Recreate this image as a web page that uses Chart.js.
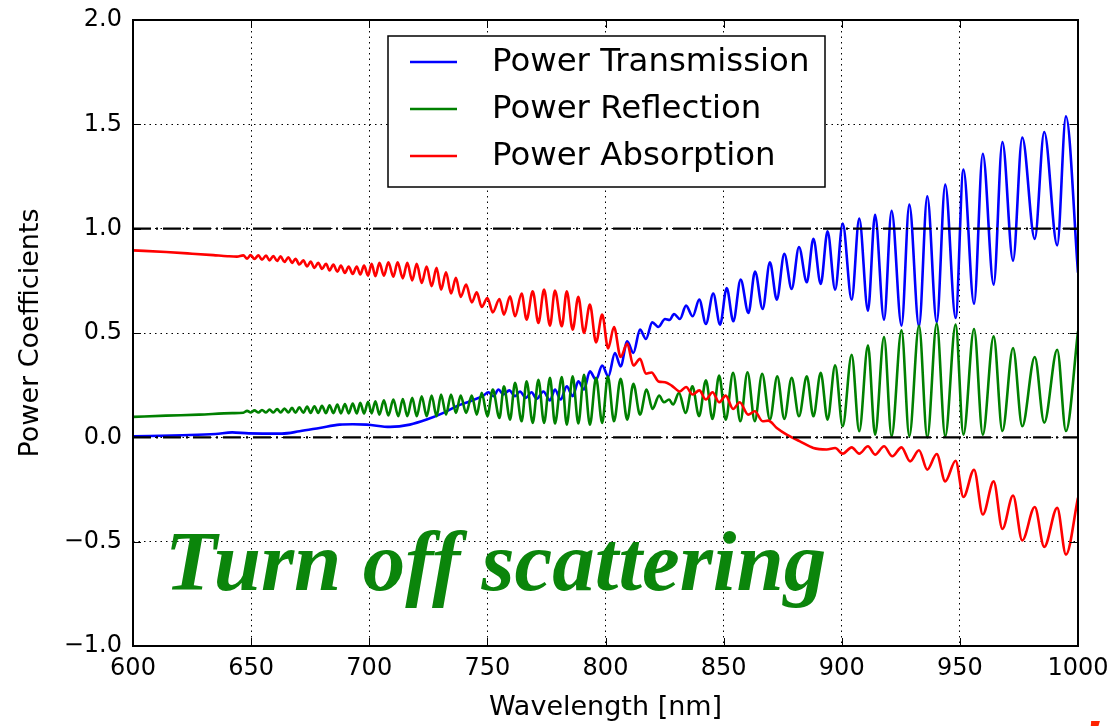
<!DOCTYPE html>
<html>
<head>
<meta charset="utf-8">
<script src="https://cdn.jsdelivr.net/npm/chart.js@4.4.1/dist/chart.umd.min.js"></script>
<style>
  body { margin: 0; background: #fff; }
  #plot { display: block; }
</style>
</head>
<body>
<canvas id="plot" width="1115" height="726"></canvas>
<script>
'use strict';

// Power Transmission (blue)
const wlT = [600, 621, 635, 642, 649, 663, 670.5, 679, 687.5, 693, 699, 708.8, 717.2, 724.3, 731.4, 737, 742.7, 748.3, 750.4, 752.6, 754.7, 756.8, 759.3, 761.7, 763.8, 766.3, 768.7, 770.9, 773.7, 776.5, 778.6, 781, 783.6, 786.1, 788.5, 790.9, 793.4, 796, 798.6, 801.2, 804, 806.4, 809.2, 811.8, 814.6, 817.1, 819.8, 822.4, 825.2, 827.1, 829, 831.5, 834.1, 836.9, 839.7, 842.5, 845.6, 848.5, 851.3, 854.1, 857.2, 860.5, 863.3, 866.5, 869.6, 872.5, 875.7, 878.8, 881.9, 885.2, 888, 891.1, 894, 897.2, 900.4, 904.2, 907.4, 911.1, 914.1, 917.9, 921.1, 925.3, 928.6, 932.7, 936.2, 940.2, 943.8, 948.2, 951.5, 956, 959.7, 964.3, 968, 972.5, 976.4, 981.7, 985.7, 991.2, 994.9, 1000];
const powT = [0.005, 0.010, 0.016, 0.024, 0.019, 0.018, 0.029, 0.045, 0.061, 0.063, 0.061, 0.050, 0.061, 0.085, 0.117, 0.149, 0.173, 0.200, 0.216, 0.197, 0.229, 0.205, 0.225, 0.197, 0.220, 0.189, 0.216, 0.184, 0.220, 0.177, 0.229, 0.181, 0.244, 0.197, 0.268, 0.229, 0.316, 0.276, 0.344, 0.292, 0.404, 0.340, 0.460, 0.404, 0.516, 0.471, 0.551, 0.529, 0.567, 0.562, 0.591, 0.567, 0.631, 0.580, 0.660, 0.543, 0.689, 0.540, 0.716, 0.556, 0.756, 0.596, 0.795, 0.615, 0.839, 0.660, 0.879, 0.711, 0.912, 0.743, 0.951, 0.735, 0.987, 0.707, 1.024, 0.659, 1.048, 0.607, 1.066, 0.564, 1.086, 0.535, 1.115, 0.532, 1.155, 0.551, 1.211, 0.572, 1.283, 0.640, 1.359, 0.732, 1.415, 0.847, 1.437, 0.951, 1.463, 0.920, 1.538, 0.789];

// Power Reflection (green)
const wlR = [600, 614, 628, 642, 646.7, 648.3, 649.8, 651.4, 653.1, 654.6, 656.3, 657.8, 659.4, 661, 662.5, 664.1, 665.8, 667.3, 668.8, 670.4, 672.1, 673.7, 675.2, 676.8, 678.4, 680, 681.7, 683.2, 684.8, 686.5, 688, 689.7, 691.3, 693, 694.7, 696.2, 697.8, 699.5, 701, 702.6, 704.3, 706.2, 708.1, 710.2, 712.3, 714.2, 716.1, 718.2, 720.1, 722.2, 724.3, 726.4, 728.5, 730.4, 732.5, 734.6, 736.7, 738.7, 741, 743.4, 745.5, 747.6, 750, 752.3, 755.1, 757, 759.6, 761.7, 764.5, 766.6, 769.2, 771.6, 774, 776.5, 778.6, 781.5, 783.6, 786.1, 788.5, 790.9, 793.4, 796, 798.6, 801, 803.6, 806.4, 809.2, 811.8, 814.6, 817.4, 819.9, 822.7, 824.7, 826.9, 828.6, 831.1, 833.9, 836.8, 839.6, 842.5, 845.3, 848.1, 850.9, 854, 857.1, 860.1, 863.2, 866.3, 869.6, 872.7, 875.7, 878.8, 881.9, 885.2, 888, 891.1, 894, 897.2, 900.4, 904.2, 907.4, 911.1, 914.1, 917.9, 921.1, 925.3, 928.6, 932.7, 936.2, 940.2, 943.8, 948.2, 951.5, 956, 959.7, 964.3, 968, 972.5, 976.4, 981.7, 985.7, 991.2, 994.9, 1000];
const powR = [0.098, 0.104, 0.109, 0.116, 0.118, 0.127, 0.119, 0.129, 0.119, 0.131, 0.119, 0.133, 0.119, 0.135, 0.119, 0.138, 0.119, 0.141, 0.118, 0.144, 0.118, 0.147, 0.117, 0.149, 0.117, 0.151, 0.116, 0.154, 0.116, 0.157, 0.115, 0.159, 0.115, 0.162, 0.114, 0.166, 0.114, 0.170, 0.115, 0.173, 0.109, 0.177, 0.105, 0.181, 0.101, 0.184, 0.101, 0.189, 0.101, 0.197, 0.101, 0.200, 0.101, 0.205, 0.109, 0.205, 0.117, 0.200, 0.117, 0.200, 0.109, 0.213, 0.101, 0.229, 0.093, 0.244, 0.085, 0.261, 0.077, 0.268, 0.069, 0.276, 0.069, 0.285, 0.066, 0.289, 0.061, 0.292, 0.066, 0.300, 0.061, 0.285, 0.069, 0.292, 0.077, 0.280, 0.085, 0.257, 0.109, 0.229, 0.136, 0.200, 0.168, 0.181, 0.157, 0.213, 0.117, 0.244, 0.101, 0.273, 0.088, 0.296, 0.085, 0.309, 0.077, 0.312, 0.077, 0.305, 0.085, 0.292, 0.088, 0.285, 0.101, 0.292, 0.101, 0.309, 0.085, 0.345, 0.053, 0.396, 0.029, 0.441, 0.013, 0.481, 0.005, 0.513, 0.005, 0.535, 0.000, 0.545, 0.005, 0.540, 0.013, 0.519, 0.013, 0.484, 0.030, 0.428, 0.053, 0.385, 0.070, 0.420, 0.030, 0.508];

// Power Absorption (red)
const wlA = [600, 614, 625, 634, 640, 644, 646.7, 648.3, 649.8, 651.4, 653.1, 654.6, 656.3, 657.8, 659.4, 661, 662.5, 664.1, 665.8, 667.3, 668.8, 670.4, 672.1, 673.7, 675.2, 676.8, 678.4, 680, 681.7, 683.2, 684.8, 686.5, 688, 689.7, 691.3, 693, 694.7, 696.2, 697.8, 699.5, 701, 702.6, 704.3, 706.2, 708.1, 710.2, 712, 714.2, 716.1, 718.2, 720.1, 722.2, 724.3, 726.4, 728.5, 730.4, 732.5, 734.6, 736.7, 738.7, 741, 743.4, 745.5, 747.6, 750, 752.3, 755.1, 757, 759.6, 761.7, 764.5, 766.6, 769.2, 771.6, 774, 776.5, 778.6, 781.5, 783.6, 786.1, 788.5, 790.9, 793.4, 796, 798.6, 801.1, 803.6, 806.4, 809.2, 811.8, 814.6, 817.1, 819.5, 822.4, 825.2, 828, 831.5, 834.1, 836.9, 839.7, 842.5, 845.3, 848.1, 850.9, 854, 856.8, 860.4, 863.2, 866.5, 868.9, 872.5, 876.7, 882.3, 888, 893.6, 897.2, 900.4, 904.2, 907.4, 911.1, 914.1, 917.9, 921.4, 925.3, 928.9, 932.7, 936.2, 940.2, 943.8, 948.2, 951.5, 956, 959.7, 964.3, 968, 972.5, 976.4, 981.7, 985.7, 991.2, 994.9, 1000];
const powA = [0.896, 0.888, 0.880, 0.873, 0.868, 0.866, 0.872, 0.856, 0.874, 0.855, 0.872, 0.851, 0.871, 0.848, 0.869, 0.845, 0.867, 0.840, 0.863, 0.836, 0.856, 0.828, 0.848, 0.819, 0.842, 0.812, 0.837, 0.807, 0.832, 0.800, 0.828, 0.794, 0.823, 0.788, 0.819, 0.783, 0.819, 0.780, 0.823, 0.775, 0.832, 0.772, 0.836, 0.775, 0.839, 0.770, 0.839, 0.762, 0.836, 0.752, 0.832, 0.740, 0.819, 0.724, 0.812, 0.708, 0.791, 0.689, 0.764, 0.673, 0.732, 0.647, 0.695, 0.625, 0.668, 0.599, 0.663, 0.588, 0.676, 0.580, 0.689, 0.564, 0.700, 0.548, 0.708, 0.535, 0.704, 0.532, 0.700, 0.516, 0.673, 0.500, 0.636, 0.455, 0.588, 0.426, 0.529, 0.385, 0.449, 0.344, 0.376, 0.305, 0.311, 0.268, 0.264, 0.248, 0.220, 0.241, 0.205, 0.225, 0.181, 0.216, 0.168, 0.200, 0.136, 0.168, 0.109, 0.125, 0.077, 0.080, 0.045, 0.013, -0.019, -0.051, -0.058, -0.051, -0.078, -0.048, -0.078, -0.043, -0.083, -0.043, -0.091, -0.048, -0.115, -0.062, -0.155, -0.080, -0.211, -0.112, -0.286, -0.155, -0.370, -0.211, -0.439, -0.279, -0.494, -0.334, -0.525, -0.338, -0.562, -0.290];

// dash-dot reference levels
const refLevels = [0, 1];

// axes
const xTicks = [600, 650, 700, 750, 800, 850, 900, 950, 1000];
const xTickLabels = ['600', '650', '700', '750', '800', '850', '900', '950', '1000'];
const yTicks = [-1.0, -0.5, 0.0, 0.5, 1.0, 1.5, 2.0];
const yTickLabels = ['\u22121.0', '\u22120.5', '0.0', '0.5', '1.0', '1.5', '2.0'];

const seriesNames = ['Power Transmission', 'Power Reflection', 'Power Absorption'];
const annotation = 'Turn off scattering';

function toPoints(xs, ys) {
  let n = Math.min(xs.length, ys.length);
  let pts = [];
  for (let i = 0; i < n; i++) pts.push({x: xs[i], y: ys[i]});
  return pts;
}

function curve(label, color, xs, ys, order) {
  return {
    label: label,
    data: toPoints(xs, ys),
    borderColor: color,
    backgroundColor: color,
    borderWidth: 2.6,
    pointRadius: 0,
    cubicInterpolationMode: 'monotone',
    order: order
  };
}

let datasets = [
  curve(seriesNames[0], '#0000ff', wlT, powT, 3),
  curve(seriesNames[1], '#008000', wlR, powR, 2),
  curve(seriesNames[2], '#ff0000', wlA, powA, 1)
];
refLevels.forEach(function (lv) {
  datasets.push({
    label: '',
    data: [{x: xTicks[0], y: lv}, {x: xTicks[xTicks.length - 1], y: lv}],
    borderColor: '#000',
    borderWidth: 2.2,
    borderDash: [18, 5, 2, 5],
    pointRadius: 0,
    order: 0
  });
});

const decorations = {
  id: 'decorations',
  afterDraw(chart) {
    const ctx = chart.ctx;
    const a = chart.chartArea;
    const xs = chart.scales.x, ys = chart.scales.y;
    ctx.save();
    // frame
    ctx.strokeStyle = '#000';
    ctx.lineWidth = 2;
    ctx.setLineDash([]);
    ctx.strokeRect(a.left, a.top, a.right - a.left, a.bottom - a.top);
    // inward ticks on all sides
    ctx.lineWidth = 1;
    ctx.beginPath();
    xTicks.forEach(function (t) {
      let px = Math.round(xs.getPixelForValue(t)) + 0.5;
      ctx.moveTo(px, a.bottom); ctx.lineTo(px, a.bottom - 8);
      ctx.moveTo(px, a.top); ctx.lineTo(px, a.top + 8);
    });
    yTicks.forEach(function (t) {
      let py = Math.round(ys.getPixelForValue(t)) + 0.5;
      ctx.moveTo(a.left, py); ctx.lineTo(a.left + 8, py);
      ctx.moveTo(a.right, py); ctx.lineTo(a.right - 8, py);
    });
    ctx.stroke();

    // legend box
    let lx = 388, ly = 36, lw = 437, lh = 151;
    ctx.fillStyle = '#fff';
    ctx.fillRect(lx, ly, lw, lh);
    ctx.lineWidth = 1.5;
    ctx.strokeRect(lx, ly, lw, lh);
    ctx.font = '32.4px "DejaVu Sans"';
    ctx.textBaseline = 'middle';
    ctx.textAlign = 'left';
    for (let i = 0; i < 3; i++) {
      let ds = chart.data.datasets[i];
      let yy = 62 + i * 47;
      ctx.strokeStyle = ds.borderColor;
      ctx.lineWidth = 2.4;
      ctx.beginPath();
      ctx.moveTo(410, yy); ctx.lineTo(457, yy);
      ctx.stroke();
      ctx.fillStyle = '#000';
      ctx.fillText(ds.label, 492, yy + 1);
    }

    // annotation text
    ctx.fillStyle = '#0b850b';
    ctx.font = 'italic bold 85px "Liberation Serif"';
    ctx.textBaseline = 'alphabetic';
    ctx.fillText(annotation, 165, 590, 676);

    // clipped red glyph at the bottom edge
    ctx.fillStyle = '#ff2200';
    ctx.font = 'italic bold 60px "Liberation Serif"';
    ctx.fillText('!', 1080, 760);
    ctx.restore();
  }
};

new Chart(document.getElementById('plot'), {
  type: 'line',
  data: { datasets: datasets },
  plugins: [decorations],
  options: {
    responsive: false,
    animation: false,
    events: [],
    layout: { padding: { top: 20, right: 37, left: 0, bottom: 0 } },
    plugins: { legend: { display: false }, tooltip: { enabled: false } },
    scales: {
      x: {
        type: 'linear',
        min: 600, max: 1000,
        afterBuildTicks(scale) { scale.ticks = xTicks.map(function (v) { return {value: v}; }); },
        afterFit(scale) { scale.height = 80; scale.paddingLeft = 0; scale.paddingRight = 0; },
        grid: { color: '#000', lineWidth: 1, drawTicks: false },
        border: { display: false, dash: [1.5, 4] },
        ticks: {
          color: '#000', padding: 8, maxRotation: 0,
          font: { family: 'DejaVu Sans', size: 24 },
          callback: function (v) { let i = xTicks.indexOf(v); return i >= 0 ? xTickLabels[i] : ''; }
        },
        title: { display: true, text: 'Wavelength [nm]', color: '#000', padding: { top: 0, bottom: 2 }, font: { family: 'DejaVu Sans', size: 27 } }
      },
      y: {
        type: 'linear',
        min: -1, max: 2,
        afterBuildTicks(scale) { scale.ticks = yTicks.map(function (v) { return {value: v}; }); },
        afterFit(scale) { scale.width = 133; scale.paddingTop = 0; scale.paddingBottom = 0; },
        grid: { color: '#000', lineWidth: 1, drawTicks: false },
        border: { display: false, dash: [1.5, 4] },
        ticks: {
          color: '#000', padding: 11,
          font: { family: 'DejaVu Sans', size: 24 },
          callback: function (v) { let i = yTicks.indexOf(v); return i >= 0 ? yTickLabels[i] : ''; }
        },
        title: { display: true, text: 'Power Coefficients', color: '#000', padding: { top: 15, bottom: 0 }, font: { family: 'DejaVu Sans', size: 27 } }
      }
    }
  }
});
</script>
</body>
</html>
